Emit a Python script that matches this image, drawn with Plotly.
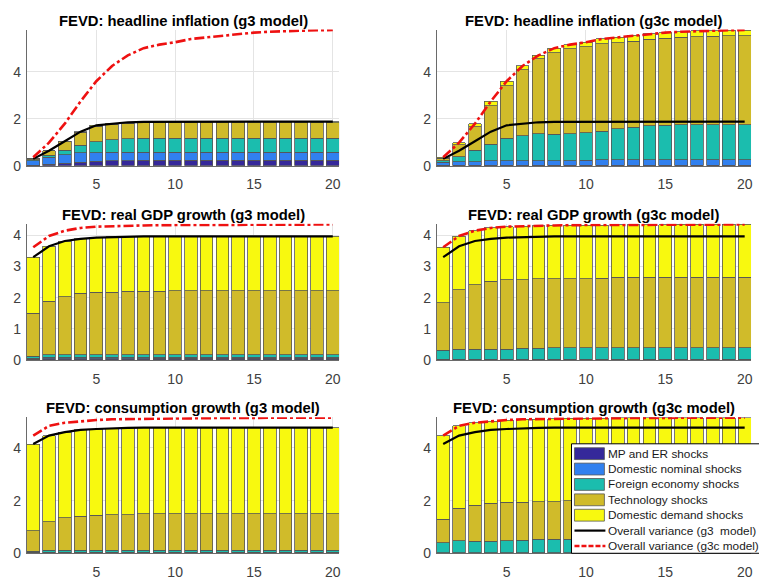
import plotly.graph_objects as go

# Forecast horizons (quarters)
horizons = list(range(1, 21))

shock_names = [
    "MP and ER shocks",
    "Domestic nominal shocks",
    "Foreign economy shocks",
    "Technology shocks",
    "Domestic demand shocks",
]
shock_colors = ["#35289a", "#3180ef", "#1bbdae", "#d0bb2a", "#f8f90f"]
line_names = ["Overall variance (g3  model)", "Overall variance (g3c model)"]

# ---- Headline inflation: g3 model contributions ----
infl_g3_mp = [0.02, 0.07, 0.11, 0.14, 0.18, 0.21, 0.22, 0.23, 0.23, 0.23,
              0.23, 0.23, 0.23, 0.23, 0.23, 0.23, 0.23, 0.23, 0.23, 0.23]
infl_g3_nom = [0.20, 0.28, 0.35, 0.41, 0.38, 0.37, 0.35, 0.34, 0.34, 0.34,
               0.34, 0.34, 0.34, 0.34, 0.34, 0.34, 0.34, 0.34, 0.34, 0.34]
infl_g3_for = [0.03, 0.10, 0.20, 0.33, 0.47, 0.52, 0.57, 0.59, 0.59, 0.60,
               0.60, 0.60, 0.60, 0.60, 0.60, 0.60, 0.60, 0.60, 0.60, 0.60]
infl_g3_tech = [0.04, 0.18, 0.37, 0.54, 0.65, 0.66, 0.66, 0.66, 0.66, 0.66,
                0.66, 0.66, 0.66, 0.66, 0.66, 0.66, 0.66, 0.66, 0.66, 0.66]
infl_g3_dem = [0.00, 0.01, 0.01, 0.03, 0.04, 0.04, 0.05, 0.05, 0.05, 0.05,
               0.05, 0.05, 0.05, 0.05, 0.05, 0.05, 0.05, 0.05, 0.05, 0.05]

# ---- Headline inflation: g3c model contributions ----
infl_g3c_mp = [0.02, 0.01, 0.01, 0.01, 0.01, 0.01, 0.01, 0.01, 0.01, 0.01,
               0.01, 0.01, 0.01, 0.01, 0.01, 0.01, 0.01, 0.01, 0.01, 0.01]
infl_g3c_nom = [0.12, 0.16, 0.16, 0.21, 0.21, 0.21, 0.20, 0.20, 0.21, 0.22,
                0.24, 0.24, 0.24, 0.24, 0.24, 0.24, 0.24, 0.24, 0.24, 0.24]
infl_g3c_for = [0.07, 0.21, 0.48, 0.70, 0.95, 1.05, 1.15, 1.12, 1.14, 1.17,
                1.22, 1.32, 1.39, 1.46, 1.48, 1.49, 1.50, 1.50, 1.50, 1.50]
infl_g3c_tech = [0.11, 0.52, 1.00, 1.64, 2.23, 2.81, 3.19, 3.48, 3.62, 3.66,
                 3.72, 3.67, 3.67, 3.68, 3.70, 3.73, 3.75, 3.77, 3.78, 3.79]
infl_g3c_dem = [0.04, 0.08, 0.14, 0.18, 0.20, 0.17, 0.15, 0.20, 0.18, 0.20,
                0.21, 0.23, 0.25, 0.24, 0.24, 0.24, 0.24, 0.23, 0.24, 0.24]

# ---- Real GDP growth: g3 model contributions ----
gdp_g3_mp = [0.02, 0.04, 0.04, 0.04, 0.04, 0.04, 0.04, 0.04, 0.05, 0.05,
             0.05, 0.05, 0.05, 0.05, 0.05, 0.05, 0.05, 0.05, 0.05, 0.05]
gdp_g3_nom = [0.03, 0.04, 0.04, 0.04, 0.04, 0.04, 0.04, 0.04, 0.04, 0.04,
              0.04, 0.04, 0.04, 0.04, 0.04, 0.04, 0.04, 0.04, 0.04, 0.04]
gdp_g3_for = [0.07, 0.08, 0.08, 0.08, 0.08, 0.08, 0.08, 0.08, 0.08, 0.08,
              0.08, 0.08, 0.08, 0.08, 0.08, 0.08, 0.08, 0.08, 0.08, 0.08]
gdp_g3_tech = [1.38, 1.73, 1.87, 1.98, 2.01, 2.02, 2.04, 2.04, 2.04, 2.05,
               2.05, 2.05, 2.05, 2.05, 2.05, 2.05, 2.05, 2.05, 2.05, 2.05]
gdp_g3_dem = [1.80, 1.76, 1.79, 1.75, 1.76, 1.77, 1.76, 1.77, 1.76, 1.75,
              1.75, 1.75, 1.75, 1.75, 1.75, 1.75, 1.75, 1.75, 1.75, 1.75]

# ---- Real GDP growth: g3c model contributions ----
gdp_g3c_mp = [0.01, 0.01, 0.01, 0.01, 0.01, 0.01, 0.01, 0.01, 0.01, 0.01,
              0.01, 0.01, 0.01, 0.01, 0.01, 0.01, 0.01, 0.01, 0.01, 0.01]
gdp_g3c_nom = [0.02, 0.02, 0.02, 0.02, 0.02, 0.02, 0.02, 0.02, 0.02, 0.02,
               0.02, 0.02, 0.02, 0.02, 0.02, 0.02, 0.02, 0.02, 0.02, 0.02]
gdp_g3c_for = [0.28, 0.31, 0.31, 0.31, 0.32, 0.35, 0.35, 0.37, 0.37, 0.37,
               0.37, 0.37, 0.37, 0.37, 0.37, 0.37, 0.37, 0.37, 0.37, 0.37]
gdp_g3c_tech = [1.53, 1.91, 2.08, 2.18, 2.23, 2.20, 2.23, 2.21, 2.21, 2.21,
                2.22, 2.25, 2.25, 2.25, 2.25, 2.25, 2.25, 2.25, 2.25, 2.25]
gdp_g3c_dem = [1.78, 1.73, 1.73, 1.72, 1.70, 1.72, 1.70, 1.71, 1.72, 1.72,
               1.71, 1.69, 1.69, 1.69, 1.69, 1.70, 1.70, 1.70, 1.70, 1.70]

# ---- Consumption growth: g3 model contributions ----
cons_g3_mp = [0.02, 0.02, 0.02, 0.02, 0.02, 0.02, 0.02, 0.02, 0.02, 0.02,
              0.02, 0.02, 0.02, 0.02, 0.02, 0.02, 0.02, 0.02, 0.02, 0.02]
cons_g3_nom = [0.02, 0.02, 0.02, 0.02, 0.02, 0.02, 0.02, 0.02, 0.02, 0.02,
               0.02, 0.02, 0.02, 0.02, 0.02, 0.02, 0.02, 0.02, 0.02, 0.02]
cons_g3_for = [0.04, 0.07, 0.07, 0.07, 0.07, 0.07, 0.07, 0.07, 0.07, 0.07,
               0.07, 0.07, 0.07, 0.07, 0.07, 0.07, 0.07, 0.07, 0.07, 0.07]
cons_g3_tech = [0.77, 1.08, 1.24, 1.30, 1.34, 1.35, 1.35, 1.39, 1.39, 1.39,
                1.39, 1.39, 1.39, 1.39, 1.39, 1.39, 1.39, 1.39, 1.39, 1.39]
cons_g3_dem = [3.30, 3.28, 3.25, 3.28, 3.27, 3.29, 3.30, 3.27, 3.27, 3.27,
               3.27, 3.27, 3.27, 3.27, 3.27, 3.27, 3.27, 3.27, 3.27, 3.27]

# ---- Consumption growth: g3c model contributions ----
cons_g3c_mp = [0.01, 0.01, 0.01, 0.01, 0.01, 0.01, 0.01, 0.01, 0.01, 0.01,
               0.01, 0.01, 0.01, 0.01, 0.01, 0.01, 0.01, 0.01, 0.01, 0.01]
cons_g3c_nom = [0.01, 0.01, 0.01, 0.01, 0.01, 0.01, 0.01, 0.01, 0.01, 0.01,
                0.01, 0.01, 0.01, 0.01, 0.01, 0.01, 0.01, 0.01, 0.01, 0.01]
cons_g3c_for = [0.38, 0.46, 0.44, 0.44, 0.46, 0.48, 0.52, 0.52, 0.52, 0.53,
                0.53, 0.53, 0.53, 0.53, 0.53, 0.53, 0.53, 0.53, 0.53, 0.53]
cons_g3c_tech = [0.89, 1.23, 1.37, 1.44, 1.45, 1.44, 1.42, 1.42, 1.46, 1.45,
                 1.46, 1.47, 1.47, 1.47, 1.47, 1.47, 1.47, 1.47, 1.47, 1.47]
cons_g3c_dem = [3.18, 3.13, 3.13, 3.12, 3.13, 3.15, 3.14, 3.15, 3.12, 3.13,
                3.12, 3.12, 3.12, 3.12, 3.13, 3.13, 3.13, 3.13, 3.13, 3.13]

panels = [
    ("FEVD: headline inflation (g3 model)", "g3",
     [infl_g3_mp, infl_g3_nom, infl_g3_for, infl_g3_tech, infl_g3_dem], [0, 2, 4]),
    ("FEVD: headline inflation (g3c model)", "g3c",
     [infl_g3c_mp, infl_g3c_nom, infl_g3c_for, infl_g3c_tech, infl_g3c_dem], [0, 2, 4]),
    ("FEVD: real GDP growth (g3 model)", "g3",
     [gdp_g3_mp, gdp_g3_nom, gdp_g3_for, gdp_g3_tech, gdp_g3_dem], [0, 1, 2, 3, 4]),
    ("FEVD: real GDP growth (g3c model)", "g3c",
     [gdp_g3c_mp, gdp_g3c_nom, gdp_g3c_for, gdp_g3c_tech, gdp_g3c_dem], [0, 1, 2, 3, 4]),
    ("FEVD: consumption growth (g3 model)", "g3",
     [cons_g3_mp, cons_g3_nom, cons_g3_for, cons_g3_tech, cons_g3_dem], [0, 2, 4]),
    ("FEVD: consumption growth (g3c model)", "g3c",
     [cons_g3c_mp, cons_g3c_nom, cons_g3c_for, cons_g3c_tech, cons_g3c_dem], [0, 2, 4]),
]


def total(parts):
    return [round(sum(v), 4) for v in zip(*parts)]


W, H = 759, 581


def px(x):
    return x / W


def py(y):
    return 1 - y / H


# Plot-area boxes in pixels: (left, right, top, bottom)
col_x = [(27, 340), (438, 753)]
row_y = [(30, 168), (227, 365), (423, 561)]

FONT = "Liberation Sans, Arial, sans-serif"
TICK_FONT = dict(family=FONT, size=14, color="#404040")
EDGE = dict(color="#555555", width=0.8)

fig = go.Figure()
layout_axes = {}
annotations = []

for i, (title, model, parts, yticks) in enumerate(panels):
    row, col = divmod(i, 2)
    n = i + 1
    xa = "x" if n == 1 else f"x{n}"
    ya = "y" if n == 1 else f"y{n}"

    for name, color, vals in zip(shock_names, shock_colors, parts):
        fig.add_trace(go.Bar(
            x=horizons, y=vals, name=name, width=0.8,
            marker=dict(color=color, line=EDGE),
            xaxis=xa, yaxis=ya, showlegend=False,
        ))

    row_parts = panels[2 * row][2], panels[2 * row + 1][2]
    tot_g3 = total(row_parts[0])
    tot_g3c = total(row_parts[1])
    fig.add_trace(go.Scatter(
        x=horizons, y=tot_g3, mode="lines", name=line_names[0],
        line=dict(color="black", width=2.2),
        xaxis=xa, yaxis=ya, showlegend=False,
    ))
    fig.add_trace(go.Scatter(
        x=horizons, y=tot_g3c, mode="lines", name=line_names[1],
        line=dict(color="#ee1111", width=2.6, dash="10px,3px,3px,3px"),
        xaxis=xa, yaxis=ya, showlegend=False,
    ))

    ymax = max(max(tot_g3), max(tot_g3c))
    x0, x1 = col_x[col]
    y0, y1 = row_y[row]
    key_x = "xaxis" if n == 1 else f"xaxis{n}"
    key_y = "yaxis" if n == 1 else f"yaxis{n}"
    layout_axes[key_x] = dict(
        domain=[px(x0), px(x1)], anchor=ya, range=[0.6, 20.4],
        tickvals=[5, 10, 15, 20], showgrid=True, gridcolor="#e4e4e4",
        zeroline=False, showline=True, linecolor="#6a6a6a", linewidth=1,
        ticks="", tickfont=TICK_FONT, ticklabelstandoff=6,
    )
    layout_axes[key_y] = dict(
        domain=[py(y1), py(y0)], anchor=xa, range=[0, ymax + 0.02],
        tickvals=yticks, showgrid=True, gridcolor="#e4e4e4",
        zeroline=False, showline=True, linecolor="#6a6a6a", linewidth=1,
        ticks="", tickfont=TICK_FONT, ticklabelstandoff=2,
    )
    annotations.append(dict(
        text=f"<b>{title}</b>", xref="paper", yref="paper",
        x=px((x0 + x1) / 2), y=py(y0 - 9), xanchor="center", yanchor="middle",
        showarrow=False,
        font=dict(family=FONT, size=14.8, color="black"),
    ))

# Legend box drawn inside the bottom-right panel
shapes = []
leg_left, leg_top, leg_bottom = 573, 450, 561
shapes.append(dict(type="rect", xref="paper", yref="paper",
                   x0=px(leg_left), x1=px(W + 5), y0=py(leg_bottom), y1=py(leg_top),
                   fillcolor="white", line=dict(color="black", width=1), layer="above"))
row_h = 15.6
first_c = 460
for k, name in enumerate(shock_names + line_names):
    cy = first_c + k * row_h
    if k < len(shock_names):
        shapes.append(dict(type="rect", xref="paper", yref="paper",
                           x0=px(576), x1=px(606), y0=py(cy + 6), y1=py(cy - 6),
                           fillcolor=shock_colors[k], line=dict(color="#555555", width=0.8),
                           layer="above"))
    elif k == len(shock_names):
        shapes.append(dict(type="line", xref="paper", yref="paper",
                           x0=px(576), x1=px(607), y0=py(cy), y1=py(cy),
                           line=dict(color="black", width=2.2), layer="above"))
    else:
        shapes.append(dict(type="line", xref="paper", yref="paper",
                           x0=px(576), x1=px(607), y0=py(cy), y1=py(cy),
                           line=dict(color="#ee1111", width=2.6, dash="5px,2px"),
                           layer="above"))
    annotations.append(dict(
        text=name, xref="paper", yref="paper", x=px(608), y=py(cy),
        xanchor="left", yanchor="middle", showarrow=False,
        font=dict(family=FONT, size=11.8, color="#1a1a1a"),
    ))

fig.update_layout(
    width=W, height=H, margin=dict(l=0, r=0, t=0, b=0),
    paper_bgcolor="white", plot_bgcolor="white",
    barmode="stack", bargap=0.2, showlegend=False,
    annotations=annotations, shapes=shapes,
    **layout_axes,
)

fig.write_html("out.html")
